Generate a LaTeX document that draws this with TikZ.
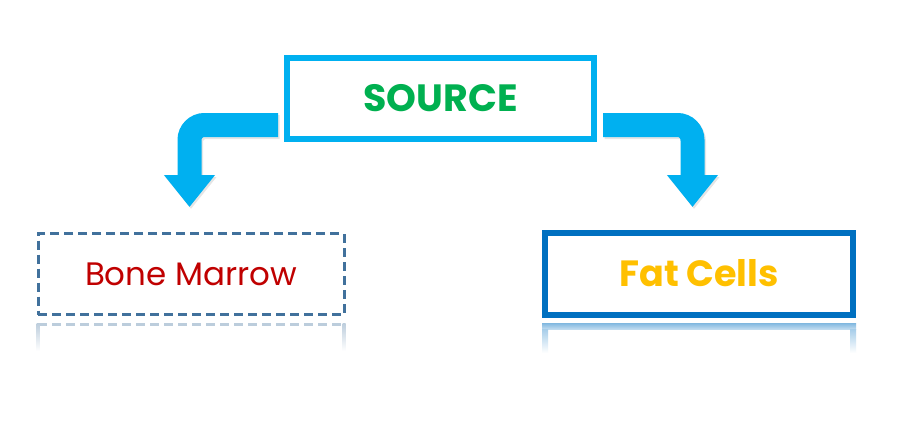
\documentclass[tikz,border=0pt]{standalone}
\usepackage{fontspec}
\setmainfont{Poppins}
\usetikzlibrary{
  positioning,
  arrows.meta
}
\definecolor{srcblue}{RGB}{0,176,240}
\definecolor{srcgreen}{RGB}{0,176,80}
\definecolor{bonered}{RGB}{192,0,0}
\definecolor{boneline}{RGB}{65,113,156}
\definecolor{fatblue}{RGB}{0,112,192}
\definecolor{fatyellow}{RGB}{255,192,0}

\begin{document}
\begin{tikzpicture}[
    x=1pt, y=-1pt,
    srcbox/.style={
      rectangle,
      draw=srcblue,
      line width=6pt,
      minimum width=307pt,
      minimum height=81pt,
      text=srcgreen,
      font=\fontsize{38}{44}\selectfont\bfseries
    },
    bonebox/.style={
      rectangle,
      draw=boneline,
      line width=3pt,
      dash pattern=on 9pt off 5pt,
      minimum width=306pt,
      minimum height=81pt,
      text=bonered,
      font=\fontsize{32.5}{38}\selectfont
    },
    fatbox/.style={
      rectangle,
      draw=fatblue,
      line width=6pt,
      minimum width=308pt,
      minimum height=82pt,
      text=fatyellow,
      font=\fontsize{36.5}{44}\selectfont\bfseries
    },
    bigarrow/.style={
      draw=srcblue,
      line width=24pt,
      rounded corners=15pt,
      -{Triangle[width=49pt,length=32pt]}
    },
    arrowshadow/.style={
      bigarrow,
      draw=black,
      opacity=0.1,
      transform canvas={shift={(1.5pt,-2pt)}}
    }
  ]
  \useasboundingbox[fill=white] (0,0) rectangle (898,421);

  \node[srcbox] (source) at (440.5,98) {SOURCE};
  \node[bonebox] (bone) at (191,274) {Bone Marrow};
  \node[fatbox] (fat) at (699,273.5) {Fat Cells};

  \coordinate (lefttip) at (189.5,207);
  \coordinate (righttip) at (692.5,207);

  % arrows with a faint shadow
  \draw[arrowshadow] ([xshift=-6pt,yshift=-27pt]source.west) -| (lefttip);
  \draw[arrowshadow] ([xshift=6pt,yshift=-27pt]source.east) -| (righttip);
  \draw[bigarrow] ([xshift=-6pt,yshift=-27pt]source.west) -| (lefttip);
  \draw[bigarrow] ([xshift=6pt,yshift=-27pt]source.east) -| (righttip);

  % reflections
  \draw[boneline, opacity=0.35, line width=3pt, dash pattern=on 9pt off 5pt]
    ([xshift=1.5pt,yshift=-8pt]bone.south west) -- ([xshift=-1.5pt,yshift=-8pt]bone.south east);
  \shade[top color=boneline!35, bottom color=white]
    ([yshift=-7pt]bone.south west) rectangle ++(3,28);
  \shade[top color=boneline!35, bottom color=white]
    ([yshift=-7pt]bone.south east) rectangle ++(-3,28);

  \shade[top color=fatblue!50, bottom color=fatblue!25]
    ([yshift=-5.5pt]fat.south west) rectangle ([yshift=-11.5pt]fat.south east);
  \shade[top color=fatblue!35, bottom color=white]
    ([yshift=-11.5pt]fat.south west) rectangle ++(6,24);
  \shade[top color=fatblue!35, bottom color=white]
    ([yshift=-11.5pt]fat.south east) rectangle ++(-6,24);
\end{tikzpicture}
\end{document}
